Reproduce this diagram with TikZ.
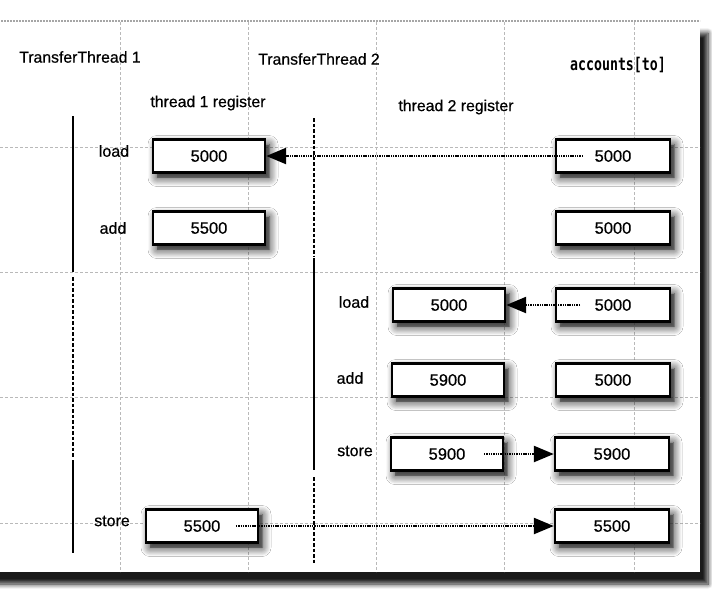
\documentclass[tikz,border=0pt]{standalone}
\usepackage{fontspec}
\setmainfont{Liberation Sans}[FakeBold=0.5]
\newfontfamily\codefont{DejaVu Sans Mono}
\usetikzlibrary{arrows.meta, shadows, shadows.blur}

\begin{document}
\begin{tikzpicture}[
	regbox/.style={draw, line width=2.4pt, fill=white, minimum width=112pt, minimum height=33pt, inner sep=3pt, font=\fontsize{16.5}{18}\selectfont,
		blur shadow={shadow xshift=4pt, shadow yshift=-5pt, shadow blur radius=9pt, shadow blur steps=12, shadow opacity=90},
		drop shadow={shadow xshift=4pt, shadow yshift=-5pt, fill=black!80}},
	lbl/.style={inner sep=1pt, font=\fontsize{16}{18}\selectfont},
	head/.style={inner sep=1pt, font=\fontsize{15.8}{18}\selectfont},
	flow/.style={line width=2.4pt, dash pattern=on 1.4pt off 0.9pt, -{Triangle[length=20pt, width=16pt, fill=black]}},
	life/.style={line width=2pt},
	idle/.style={line width=2pt, dash pattern=on 3.5pt off 2pt},
	gridln/.style={gray!55, line width=0.7pt, dash pattern=on 3pt off 2pt}]
		\useasboundingbox (0pt,0pt) rectangle (712pt,-590pt);
		\path[fill=white, blur shadow={shadow xshift=8pt, shadow yshift=-12pt, shadow blur radius=5pt, shadow blur steps=8, shadow opacity=90}]
			(-20pt,-21pt) rectangle (700pt,-572pt);
		\draw[gray!70, line width=1.5pt, dash pattern=on 2pt off 1pt] (-20pt,-21pt) -- (700pt,-21pt);
		\draw[gridln] (120pt,-22pt) -- (120pt,-572pt) (248pt,-22pt) -- (248pt,-572pt) (376pt,-22pt) -- (376pt,-572pt)
			(504pt,-22pt) -- (504pt,-572pt) (634pt,-22pt) -- (634pt,-572pt);
		\draw[gridln] (0pt,-147pt) -- (700pt,-147pt) (0pt,-272pt) -- (700pt,-272pt) (0pt,-397pt) -- (700pt,-397pt)
			(0pt,-523pt) -- (700pt,-523pt);

		\draw[life] (73pt,-116pt) -- (73pt,-272pt) (73pt,-460pt) -- (73pt,-553pt);
		\draw[idle] (73pt,-277pt) -- (73pt,-457pt);
		\draw[life] (314pt,-258pt) -- (314pt,-470pt);
		\draw[idle] (314pt,-118pt) -- (314pt,-256pt) (314pt,-477pt) -- (314pt,-563pt);

		\path (18pt,-57pt) node[head, anchor=west] (hth1) {TransferThread 1}
		(319pt,-59pt) node[head] (hth2) {TransferThread 2}
		(618pt,-65pt) node[inner sep=1pt, font=\codefont\bfseries\fontsize{13.5}{16}\selectfont] (hacc) {\scalebox{0.98}[1.3]{accounts[to]}}
		(208pt,-103pt) node[head] (hreg1) {thread 1 register}
		(456pt,-107pt) node[head] (hreg2) {thread 2 register};

		\draw (209pt,-156pt) node[regbox] (r1load) {5000}
		(209pt,-228pt) node[regbox] (r1add) {5500}
		(202pt,-526pt) node[regbox] (r1store) {5500}
		(449pt,-305pt) node[regbox] (r2load) {5000}
		(448pt,-380pt) node[regbox] (r2add) {5900}
		(447pt,-454pt) node[regbox] (r2store) {5900}
		(613pt,-156pt) node[regbox, minimum width=114pt] (acc1) {5000}
		(613pt,-228pt) node[regbox, minimum width=114pt] (acc2) {5000}
		(613pt,-305pt) node[regbox, minimum width=114pt] (acc3) {5000}
		(613pt,-380pt) node[regbox, minimum width=114pt] (acc4) {5000}
		(612pt,-454pt) node[regbox, minimum width=114pt] (acc5) {5900}
		(612pt,-526pt) node[regbox, minimum width=114pt] (acc6) {5500};

		\path (114pt,-151pt) node[lbl] (op1load) {load}
		(113pt,-228pt) node[lbl] (op1add) {add}
		(112pt,-521pt) node[lbl] (op1store) {store}
		(354pt,-302pt) node[lbl] (op2load) {load}
		(350pt,-378pt) node[lbl] (op2add) {add}
		(355pt,-451pt) node[lbl] (op2store) {store};

		\coordinate (src1) at (583pt,-156pt);
		\coordinate (src3) at (580pt,-305pt);
		\coordinate (src5) at (484pt,-454pt);
		\coordinate (src6) at (236pt,-526pt);

		\draw[flow] (src1) -- (r1load.east);
		\draw[flow] (src3) -- (r2load.east);
		\draw[flow] (src5) -- (acc5.west);
		\draw[flow] (src6) -- (acc6.west);
	\end{tikzpicture}
\end{document}
